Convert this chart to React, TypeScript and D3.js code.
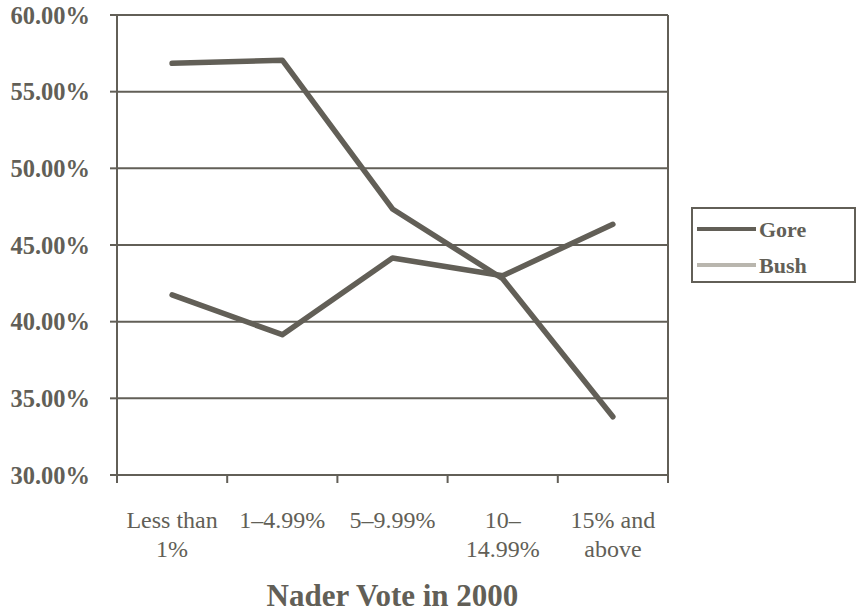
import React from "react";
import * as d3 from "d3";

const categories = ["Less than|1%", "1–4.99%", "5–9.99%", "10–|14.99%", "15% and|above"];
const gore = [56.85, 57.05, 47.35, 42.8, 33.8];
const bush = [41.75, 39.15, 44.15, 43.0, 46.35];
const yTicks = [30, 35, 40, 45, 50, 55, 60];
const seriesNames = ["Gore", "Bush"];

const W = 858;
const H = 613;
const M = { left: 117, right: 668, top: 15, bottom: 475 };
const ink = "#625f57";
const serif = "'Liberation Serif', 'Times New Roman', serif";

export default function App() {
  const x = d3.scaleBand<number>().domain(d3.range(categories.length)).range([M.left, M.right]);
  const y = d3.scaleLinear().domain([30, 60]).range([M.bottom, M.top]);
  const line = d3
    .line<number>()
    .x((_, i) => (x(i) as number) + x.bandwidth() / 2)
    .y((d) => y(d));

  const xEdges = d3.range(categories.length + 1).map((i) => M.left + i * x.bandwidth());

  return (
    <svg width={W} height={H} style={{ position: "absolute", left: 0, top: 0, background: "#fff" }}>
      {/* horizontal gridlines and y ticks */}
      {yTicks.map((t) => (
        <g key={t}>
          <line x1={M.left} x2={M.right} y1={y(t)} y2={y(t)} stroke={ink} strokeWidth={2} />
          <line x1={M.left - 7} x2={M.left} y1={y(t)} y2={y(t)} stroke={ink} strokeWidth={2} />
          <text
            x={90}
            y={y(t)}
            dy="0.35em"
            textAnchor="end"
            fontFamily={serif}
            fontWeight="bold"
            fontSize={24.5}
            fill={ink}
          >
            {t.toFixed(2)}%
          </text>
        </g>
      ))}
      {/* frame: left axis and right border */}
      <line x1={M.left} x2={M.left} y1={M.top} y2={M.bottom} stroke={ink} strokeWidth={2} />
      <line x1={M.right} x2={M.right} y1={M.top} y2={M.bottom} stroke={ink} strokeWidth={2} />
      {/* x ticks */}
      {xEdges.map((xe, i) => (
        <line key={i} x1={xe} x2={xe} y1={M.bottom} y2={M.bottom + 8} stroke={ink} strokeWidth={2} />
      ))}
      {/* x category labels */}
      {categories.map((c, i) => (
        <text
          key={c}
          x={(x(i) as number) + x.bandwidth() / 2}
          y={528}
          textAnchor="middle"
          fontFamily={serif}
          fontSize={24}
          fill={ink}
        >
          {c.split("|").map((part, j) => (
            <tspan key={j} x={(x(i) as number) + x.bandwidth() / 2} dy={j === 0 ? 0 : 29}>
              {part}
            </tspan>
          ))}
        </text>
      ))}
      {/* series lines */}
      <path d={line(gore) || ""} fill="none" stroke={ink} strokeWidth={5.5} strokeLinejoin="round" strokeLinecap="round" />
      <path d={line(bush) || ""} fill="none" stroke={ink} strokeWidth={5.5} strokeLinejoin="round" strokeLinecap="round" />
      {/* axis title */}
      <text
        x={(M.left + M.right) / 2}
        y={606}
        textAnchor="middle"
        fontFamily={serif}
        fontWeight="bold"
        fontSize={31}
        fill={ink}
      >
        Nader Vote in 2000
      </text>
      {/* legend */}
      <rect x={692} y={208} width={163} height={74} fill="#fff" stroke={ink} strokeWidth={2} />
      {seriesNames.map((name, i) => (
        <g key={name}>
          <line
            x1={697}
            x2={756}
            y1={229 + i * 36}
            y2={229 + i * 36}
            stroke={i === 0 ? ink : "#b9b6ae"}
            strokeWidth={4}
          />
          <text
            x={759}
            y={229 + i * 36}
            dy="0.35em"
            fontFamily={serif}
            fontWeight="bold"
            fontSize={22}
            fill={ink}
          >
            {name}
          </text>
        </g>
      ))}
    </svg>
  );
}
